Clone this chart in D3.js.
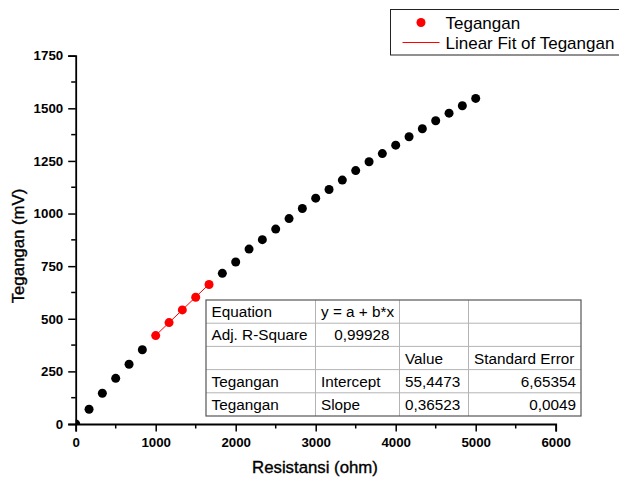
<!DOCTYPE html>
<html>
<head>
<meta charset="utf-8">
<script src="https://cdn.jsdelivr.net/npm/d3@7/dist/d3.min.js"></script>
<style>
  body { margin: 0; background: #fff; }
  svg { display: block; }
  text { font-family: "Liberation Sans", Arial, sans-serif; fill: #000; }
</style>
</head>
<body>
<svg id="chart" width="619" height="481"></svg>
<script>
// Measured voltage (mV) against resistance (ohm)
const resistance = [0, 167, 333, 500, 667, 833, 1000, 1167, 1333, 1500, 1667,
  1833, 2000, 2167, 2333, 2500, 2667, 2833, 3000, 3167, 3333,
  3500, 3667, 3833, 4000, 4167, 4333, 4500, 4667, 4833, 5000];
const voltage = [0, 70, 146, 217, 284, 353, 420, 482, 542, 602, 663,
  716, 770, 831, 876, 926, 976, 1024, 1073, 1114, 1159,
  1204, 1246, 1285, 1325, 1365, 1403, 1441, 1477, 1512, 1547];

// Range of resistance used for the linear fit (points drawn in red)
const fitFrom = 1000;
const fitTo = 1667;

// Linear fit results
const fitIntercept = 55.4473;
const fitSlope = 0.36523;

const xTicks = [0, 1000, 2000, 3000, 4000, 5000, 6000];
const yTicks = [0, 250, 500, 750, 1000, 1250, 1500, 1750];

const legendLabels = ["Tegangan", "Linear Fit of Tegangan"];

const tableRows = [
  ["Equation", "y = a + b*x", "", ""],
  ["Adj. R-Square", "0,99928", "", ""],
  ["", "", "Value", "Standard Error"],
  ["Tegangan", "Intercept", "55,4473", "6,65354"],
  ["Tegangan", "Slope", "0,36523", "0,0049"]
];

const svg = d3.select("#chart");

const x = d3.scaleLinear().domain([0, 6000]).range([75.7, 555.7]);
const y = d3.scaleLinear().domain([0, 1750]).range([424, 55.7]);

const font = '"Liberation Sans", Arial, sans-serif';

// clip region for the data marks
svg.append("defs").append("clipPath").attr("id", "plotClip")
  .append("rect")
  .attr("x", x(0)).attr("y", y(1750))
  .attr("width", x(6000) - x(0)).attr("height", y(0) - y(1750));

// data
const points = resistance.map((r, i) => ({ r, v: voltage[i], fit: r >= fitFrom && r <= fitTo }));
const plot = svg.append("g").attr("clip-path", "url(#plotClip)");

plot.append("line")
  .attr("x1", x(fitFrom)).attr("y1", y(fitIntercept + fitSlope * fitFrom))
  .attr("x2", x(fitTo)).attr("y2", y(fitIntercept + fitSlope * fitTo))
  .attr("stroke", "#ff0000").attr("stroke-width", 1);

plot.selectAll("circle").data(points).join("circle")
  .attr("cx", d => x(d.r)).attr("cy", d => y(d.v))
  .attr("r", 4.5)
  .attr("fill", d => d.fit ? "#ff0000" : "#000");

// axes
const xMinor = d3.range(500, 6000, 1000);
const yMinor = d3.range(125, 1750, 250);

const xAxisG = svg.append("g").attr("transform", `translate(0,${y(0)})`);
xAxisG.call(d3.axisBottom(x).tickValues(xTicks).tickSize(7.5).tickPadding(6).tickFormat(d3.format("d")));
xAxisG.append("g").selectAll("line").data(xMinor).join("line")
  .attr("x1", d => x(d)).attr("x2", d => x(d))
  .attr("y1", 0).attr("y2", 4.5).attr("stroke", "#000").attr("stroke-width", 1.5);

const yAxisG = svg.append("g").attr("transform", `translate(${x(0)},0)`);
yAxisG.call(d3.axisLeft(y).tickValues(yTicks).tickSize(7.5).tickPadding(5).tickFormat(d3.format("d")));
yAxisG.append("g").selectAll("line").data(yMinor).join("line")
  .attr("y1", d => y(d)).attr("y2", d => y(d))
  .attr("x1", 0).attr("x2", -4.5).attr("stroke", "#000").attr("stroke-width", 1.5);

[xAxisG, yAxisG].forEach(g => {
  g.select(".domain").attr("stroke", "#000").attr("stroke-width", 1.8);
  g.selectAll(".tick line").attr("stroke", "#000").attr("stroke-width", 1.5);
  g.selectAll(".tick text").attr("font-family", font).attr("font-size", 13.3)
    .attr("font-weight", "bold").attr("fill", "#000");
});

// axis titles
svg.append("text")
  .attr("x", 315).attr("y", 473)
  .attr("text-anchor", "middle")
  .attr("font-size", 16.8)
  .attr("stroke", "#000").attr("stroke-width", 0.35)
  .text("Resistansi (ohm)");

svg.append("text")
  .attr("transform", "translate(23.5,246) rotate(-90)")
  .attr("text-anchor", "middle")
  .attr("font-size", 16.8)
  .attr("stroke", "#000").attr("stroke-width", 0.35)
  .text("Tegangan (mV)");

// legend
const legend = svg.append("g");
legend.append("rect")
  .attr("x", 390.5).attr("y", 9.5).attr("width", 240).attr("height", 45.5)
  .attr("fill", "#fff").attr("stroke", "#222").attr("stroke-width", 1);
legend.append("circle").attr("cx", 421).attr("cy", 22.5).attr("r", 4.5).attr("fill", "#ff0000");
legend.append("line").attr("x1", 402.5).attr("x2", 439.5).attr("y1", 42.5).attr("y2", 42.5)
  .attr("stroke", "#ff0000").attr("stroke-width", 1);
legend.selectAll("text.lbl").data(legendLabels).join("text")
  .attr("class", "lbl")
  .attr("x", 445.5).attr("y", (d, i) => 28.5 + i * 20.5)
  .attr("font-size", 17)
  .text(d => d);

// fit results table
const colEdges = [206, 315.5, 399.5, 468.5, 581];
const rowH = 23.2;
const tableTop = 300;
const rightPad = [0, 10, 0, 5];
const table = svg.append("g");
table.append("rect")
  .attr("x", colEdges[0]).attr("y", tableTop)
  .attr("width", colEdges[4] - colEdges[0]).attr("height", rowH * tableRows.length)
  .attr("fill", "#fff");
// inner grid
for (let c = 1; c < 4; c++) {
  table.append("line")
    .attr("x1", colEdges[c]).attr("x2", colEdges[c])
    .attr("y1", tableTop).attr("y2", tableTop + rowH * tableRows.length)
    .attr("stroke", "#b4b4b4").attr("stroke-width", 1);
}
for (let r = 1; r < tableRows.length; r++) {
  table.append("line")
    .attr("x1", colEdges[0]).attr("x2", colEdges[4])
    .attr("y1", tableTop + r * rowH).attr("y2", tableTop + r * rowH)
    .attr("stroke", "#b4b4b4").attr("stroke-width", 1);
}
table.append("rect")
  .attr("x", colEdges[0]).attr("y", tableTop)
  .attr("width", colEdges[4] - colEdges[0]).attr("height", rowH * tableRows.length)
  .attr("fill", "none").attr("stroke", "#555").attr("stroke-width", 1.2);

tableRows.forEach((row, ri) => {
  row.forEach((cell, ci) => {
    if (!cell) return;
    const numeric = /^[0-9,]+$/.test(cell) && (ci === 1 || ci === 3);
    table.append("text")
      .attr("x", numeric ? colEdges[ci + 1] - rightPad[ci] : colEdges[ci] + 5.5)
      .attr("y", tableTop + ri * rowH + rowH / 2)
      .attr("dy", "0.36em")
      .attr("text-anchor", numeric ? "end" : "start")
      .attr("font-size", 15.3)
      .text(cell);
  });
});
</script>
</body>
</html>
